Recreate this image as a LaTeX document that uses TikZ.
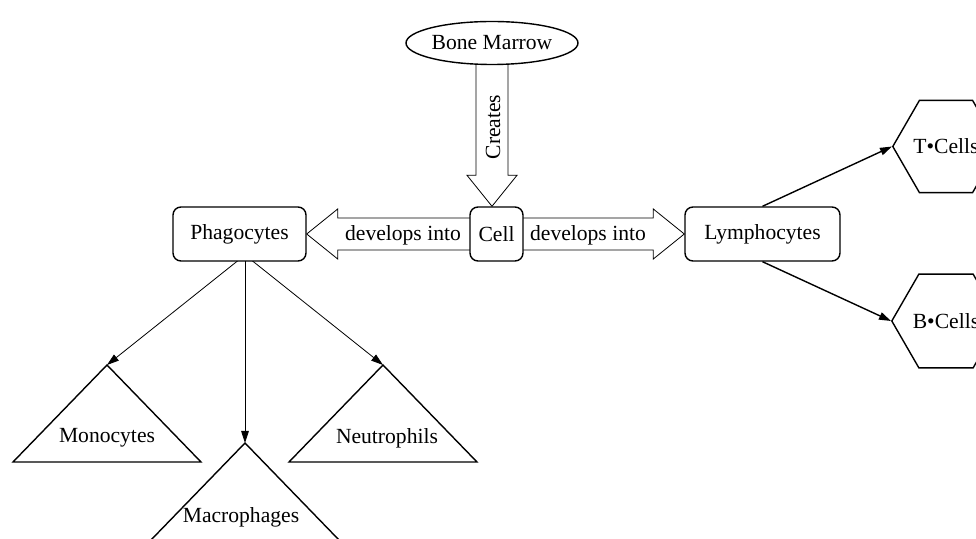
\documentclass[tikz,border=0pt]{standalone}
\usepackage{fontspec}
\setmainfont{Liberation Serif}
\usetikzlibrary{arrows.meta,shapes.geometric,calc,backgrounds}

\tikzset{
  box/.style={draw, fill=white, rounded corners=4pt, inner sep=0pt, minimum height=27pt},
  oval/.style={draw, ellipse, fill=white, inner sep=0pt, minimum width=86pt, minimum height=21.5pt},
  hexa/.style={draw, regular polygon, regular polygon sides=6, fill=white, inner sep=0pt, minimum size=51pt},
  tag/.style={inner sep=0pt},
  fat/.style={draw, fill=white, line join=miter},
  tri/.style={draw, line join=miter},
  link/.style={-{Triangle[length=6pt,width=3.8pt]}},
}

% Hollow block arrow from #1 to #2 (tip exactly at #2)
\newcommand\hollowarrow[2]{%
  \path (#1) coordinate (ha-s) (#2) coordinate (ha-e);
  \path ($(ha-e)!15.5pt!(ha-s)$) coordinate (ha-h);
  \draw[fat] ($(ha-s)!8pt!90:(ha-e)$)
    -- ($(ha-h)!8pt!-90:(ha-s)$)
    -- ($(ha-h)!12.5pt!-90:(ha-s)$)
    -- (ha-e)
    -- ($(ha-h)!12.5pt!90:(ha-s)$)
    -- ($(ha-h)!8pt!90:(ha-s)$)
    -- ($(ha-s)!8pt!-90:(ha-e)$) -- cycle;
}

\begin{document}
\begin{tikzpicture}[x=0.5pt, y=-0.5pt, line width=0.7pt,
                    font=\fontsize{10.8}{12}\selectfont]
  \useasboundingbox (0,0) rectangle (976,539);
  \clip (0,0) rectangle (976,539);

  % main nodes
  \node[oval] (bm) at (492,43) {Bone Marrow};
  \node[box, minimum width=26.5pt] (cell) at (496.5,234) {Cell};
  \node[box, minimum width=66.5pt] (phago) at (239.5,234) {Phagocytes};
  \node[box, minimum width=77.5pt] (lympho) at (762.5,234) {Lymphocytes};
  \node[hexa] (tcell) at (946,146.5) {T•Cells};
  \node[hexa] (bcell) at (946,321) {B•Cells};

  % triangles below Phagocytes
  \coordinate (monotop) at (107,365);
  \coordinate (macrotop) at (245,443);
  \coordinate (neutrotop) at (383,365);
  \draw[tri] (monotop) -- ++(-94,97) -- ++(188,0) -- cycle;
  \draw[tri] (macrotop) -- ++(-94,97) -- ++(188,0) -- cycle;
  \draw[tri] (neutrotop) -- ++(-94,97) -- ++(188,0) -- cycle;
  \node[tag] (mono) at (107,438) {Monocytes};
  \node[tag] (macro) at (241,517) {Macrophages};
  \node[tag] (neutro) at (387,438) {Neutrophils};

  % block arrows and edges behind the nodes
  \begin{scope}[on background layer]
    \hollowarrow{bm.center}{bm.center |- cell.north}
    \hollowarrow{cell.center}{phago.east}
    \hollowarrow{cell.center}{lympho.west}
    \coordinate (phub) at (245,255);
    \draw[link] (phub) -- (monotop);
    \draw[link] (phub) -- (macrotop);
    \draw[link] (phub) -- (neutrotop);
  \end{scope}

  % arrow labels
  \node[tag, rotate=90] (creates) at (493,127) {Creates};
  \node[tag] (devl) at (403,235) {develops into};
  \node[tag] (devr) at (588,235) {develops into};

  % edges to the lymphocyte subtypes
  \draw[link] (lympho.north) -- (tcell.west);
  \draw[link] (lympho.south) -- (bcell.west);
\end{tikzpicture}
\end{document}
